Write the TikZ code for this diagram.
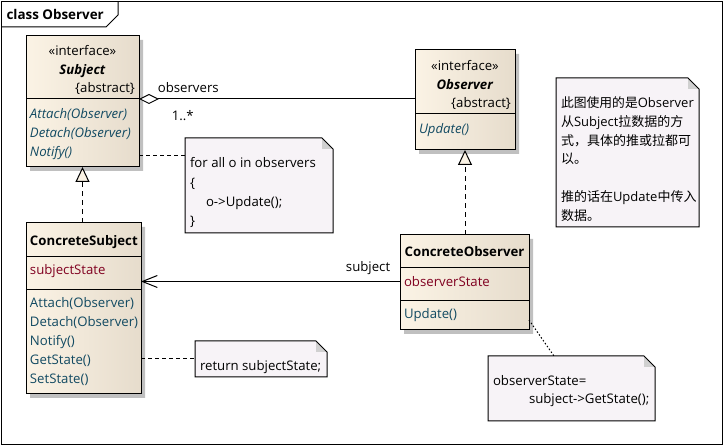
\documentclass[tikz,border=0pt]{standalone}
\usepackage{fontspec}
\setmainfont{Open Sans}
\newfontfamily\cjk{Noto Sans CJK SC}
\usetikzlibrary{positioning,shapes.multipart,shadows,arrows.meta}
\definecolor{classleft}{RGB}{251,243,229}
\definecolor{classright}{RGB}{230,220,204}
\definecolor{notefill}{RGB}{247,243,247}
\definecolor{foldgrey}{RGB}{208,208,208}
\definecolor{shadowgrey}{RGB}{192,192,192}
\definecolor{opcolor}{RGB}{18,74,98}
\definecolor{attrcolor}{RGB}{128,0,32}
\tikzset{
    umlclass/.style={rectangle split, rectangle split parts=#1, draw=black, line width=1pt, inner xsep=4pt, inner ysep=0pt, outer sep=0pt, left color=classleft, right color=classright, drop shadow={shadow xshift=4pt, shadow yshift=-4pt, fill=shadowgrey, opacity=1}, anchor=north west},
    umlnote/.style={fill=notefill, inner xsep=5pt, inner ysep=0pt, outer sep=0pt, anchor=north west},
    aggr/.style={line width=1pt, {Diamond[length=20pt,width=10pt,fill=white]}-},
    realize/.style={line width=1pt, dash pattern=on 5pt off 4pt, -{Triangle[length=15pt,width=14pt,fill=classleft]}},
    navig/.style={line width=1pt, -{Straight Barb[length=15pt,width=12pt]}},
    notelink/.style={line width=1pt, dash pattern=on 4pt off 3pt},
    notedot/.style={line width=1pt, dash pattern=on 1.5pt off 2pt}
    }

\begin{document}
\begin{tikzpicture}[x=1pt, y=-1pt, font=\fontsize{13.2}{19}\selectfont]
    \useasboundingbox (0,0) rectangle (724,446);
    % frame
    \draw[line width=1pt] (1.5,1.5) rectangle (722.5,444.5);
    \draw[line width=1pt] (1.5,27) -- (106,27) -- (118,15) -- (118,1.5);
    \node[anchor=west, font=\fontsize{13.4}{19}\selectfont\bfseries] (title) at (3,14) {class Observer};

    % classes
    \node[umlclass=2] (subject) at (26,36) {\parbox[c][62pt][t]{105pt}{\centering\baselineskip=18.5pt\rule{0pt}{19.5pt}«interface»\\\textbf{\textit{Subject}}\\\hfill\{abstract\}}
        \nodepart{two}\parbox[c][67pt][t]{105pt}{\color{opcolor}\itshape\rule{0pt}{19.5pt}Attach(Observer)\\Detach(Observer)\\Notify()}};
    \node[umlclass=2] (observer) at (415,50) {\parbox[c][63pt][t]{92pt}{\centering\baselineskip=18.5pt\rule{0pt}{20.5pt}«interface»\\\textbf{\textit{Observer}}\\\hfill\{abstract\}}
        \nodepart{two}\parbox[c][35pt][t]{92pt}{\color{opcolor}\itshape\rule{0pt}{19.5pt}Update()}};
    \node[umlclass=3] (csubject) at (26,223) {\parbox[c][33pt][t]{107pt}{\centering\rule{0pt}{22.5pt}\textbf{ConcreteSubject}}
        \nodepart{two}\parbox[c][32pt][t]{107pt}{\color{attrcolor}\rule{0pt}{17.5pt}subjectState}
        \nodepart{three}\parbox[c][103pt][t]{107pt}{\color{opcolor}\rule{0pt}{17.5pt}Attach(Observer)\\Detach(Observer)\\Notify()\\GetState()\\SetState()}};
    \node[umlclass=3] (cobserver) at (400,235) {\parbox[c][32pt][t]{121pt}{\centering\rule{0pt}{21.5pt}\textbf{ConcreteObserver}}
        \nodepart{two}\parbox[c][32pt][t]{121pt}{\color{attrcolor}\rule{0pt}{18.5pt}observerState}
        \nodepart{three}\parbox[c][28pt][t]{121pt}{\color{opcolor}\rule{0pt}{17.5pt}Update()}};

    % notes
    \node[umlnote] (notify) at (185,138) {\parbox[c][95pt][t]{138pt}{\baselineskip=19.3pt\rule{0pt}{30pt}for all o in observers\\\{\\\hspace*{16pt}o->Update();\\\}}};
    \node[umlnote] (getstate) at (195,341) {\parbox[c][36pt][t]{122pt}{\rule{0pt}{30pt}return subjectState;}};
    \node[umlnote] (update) at (488,356) {\parbox[c][65pt][t]{157pt}{\baselineskip=18pt\rule{0pt}{30pt}observerState=\\\hspace*{36pt}subject->GetState();}};
    \node[umlnote] (remark) at (556,78) {\parbox[c][149pt][t]{133pt}{\fontsize{13}{18.8}\selectfont\rule{0pt}{29.5pt}{\cjk\fontsize{12.8}{18.8}\selectfont 此图使用的是}Observer\\{\cjk 从}Subject{\cjk 拉数据的方}\\{\cjk 式，具体的推或拉都可}\\{\cjk 以。}\\\mbox{}\\{\cjk 推的话在}Update{\cjk 中传入}\\{\cjk 数据。}}};
    \foreach \n in {notify,getstate,update,remark} {
        \fill[white] ([xshift=-11pt]\n.north east) -- (\n.north east) -- ([yshift=-11pt]\n.north east) -- cycle;
        \fill[foldgrey] ([xshift=-11pt]\n.north east) -- ([xshift=-11pt,yshift=-11pt]\n.north east) -- ([yshift=-11pt]\n.north east) -- cycle;
        \draw[line width=1pt] (\n.north west) -- ([xshift=-11pt]\n.north east) -- ([yshift=-11pt]\n.north east) -- (\n.south east) -- (\n.south west) -- cycle;
    }

    % connectors
    \draw[aggr] (subject.text split east) -- (subject.text split east -| observer.west)
        node[pos=0, anchor=south west, xshift=15pt, yshift=3pt]{observers}
        node[pos=0, anchor=north west, xshift=29pt, yshift=-8pt]{1..*};
    \draw[realize] (csubject.north -| subject.south) -- (subject.south);
    \draw[realize] (cobserver.north -| observer.south) -- (observer.south);
    \coordinate (subjend) at ([yshift=-13.5pt]cobserver.text split west);
    \draw[navig] (subjend) -- (subjend -| csubject.east) node[pos=0, anchor=south east, xshift=-6pt, yshift=3pt]{subject};
    \coordinate (notifyend) at ([yshift=11pt]subject.south east);
    \draw[notelink] (notifyend) -- (notifyend -| notify.west);
    \draw[notelink] (getstate.west -| csubject.east) -- (getstate.west);
    \draw[notedot] ([yshift=10pt]cobserver.south east) -- ([xshift=66pt]update.north west);
\end{tikzpicture}
\end{document}
